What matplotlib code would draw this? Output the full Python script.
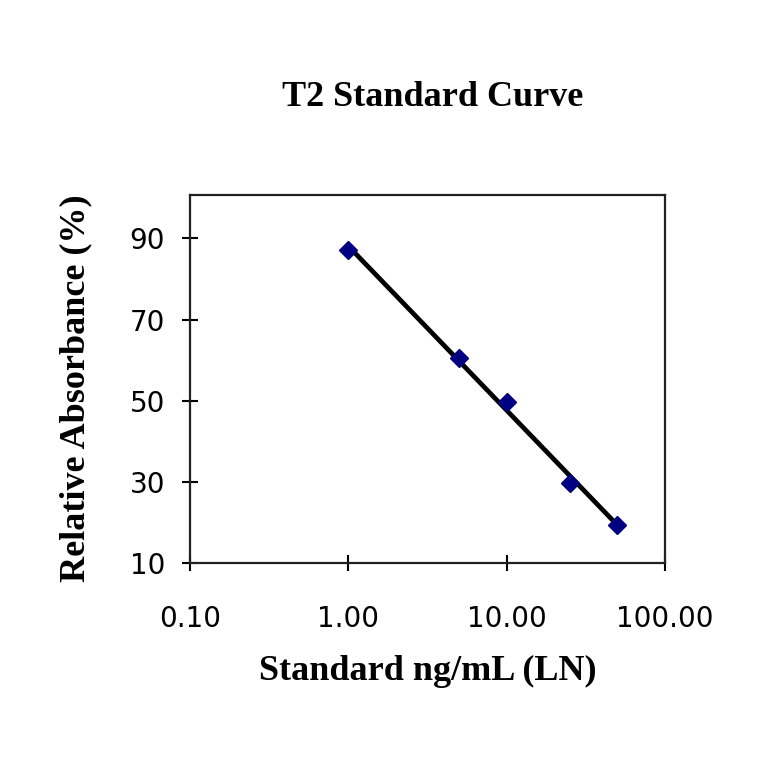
import numpy as np
import matplotlib.pyplot as plt

# standard concentrations (ng/mL) and relative absorbance (%)
conc = [1.0, 5.0, 10.0, 25.0, 50.0]
absorb = [87.2, 60.5, 49.6, 29.7, 19.4]
xticks = [0.1, 1, 10, 100]
xtick_labels = ['0.10', '1.00', '10.00', '100.00']
yticks = [10, 30, 50, 70, 90]

# logarithmic trend line through the standards
b, a = np.polyfit(np.log(conc), absorb, 1)
xfit = np.array(conc)
yfit = a + b * np.log(xfit)

fig = plt.figure(figsize=(7.64, 7.64), dpi=100)
ax = fig.add_axes([190/764, 1-563/764, 475/764, 368/764])

ax.plot(xfit, yfit, color='black', lw=3.4, zorder=2)
ax.plot(conc, absorb, 'D', color='#000080', ms=9, zorder=3)

ax.set_xscale('log')
ax.set_xlim(0.1, 100)
ax.set_ylim(10, 100.7)
ax.set_xticks(xticks)
ax.set_xticklabels(xtick_labels)
ax.minorticks_off()
ax.set_yticks(yticks)
ax.tick_params(direction='inout', length=12, width=1.5, labelsize=20, pad=12)
ax.tick_params(axis='x', pad=24)
for s in ax.spines.values():
    s.set_linewidth(1.6)
    s.set_color('#222222')

ax.set_xlabel('Standard ng/mL (LN)', family='Liberation Serif', weight='bold',
              fontsize=26, labelpad=16)
ax.set_ylabel('Relative Absorbance (%)', family='Liberation Serif', weight='bold',
              fontsize=26)
ax.yaxis.set_label_coords(-0.205, 0.475)
fig.text(0.566, 0.873, 'T2 Standard Curve', family='Liberation Serif', weight='bold',
         fontsize=26, ha='center', va='center')

fig.savefig('out.png', dpi=100, facecolor='white')
